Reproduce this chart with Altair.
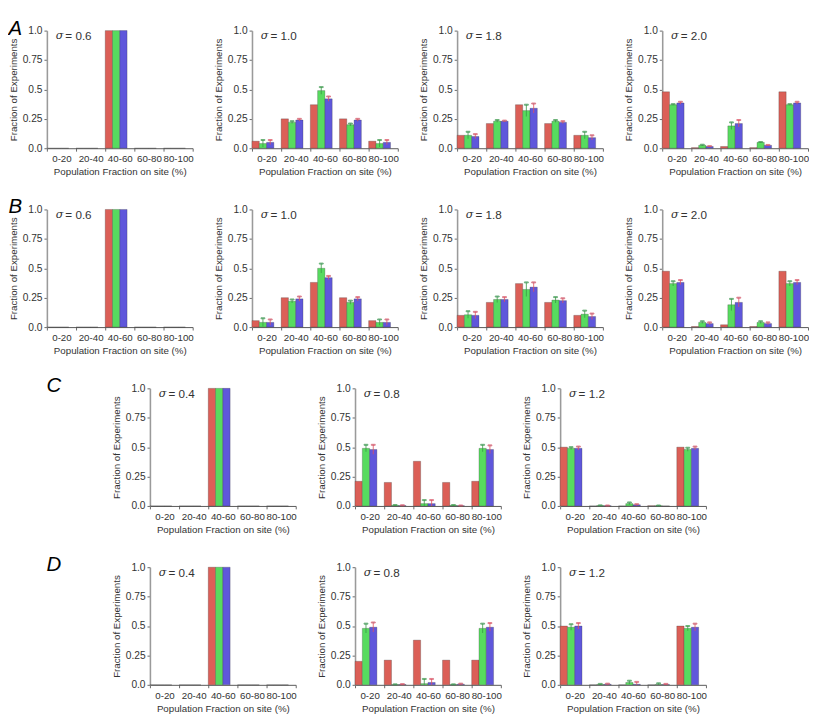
import altair as alt
import pandas as pd

cats = ["0-20", "20-40", "40-60", "60-80", "80-100"]
series = ["s1", "s2", "s3"]
bar_colors = ["#db5f57", "#57db5f", "#5f57db"]
err_colors = ["#b03030", "#3a9a46", "#e0505f"]

# ---- Row A ----
A1_sigma = "0.6"
A1_red = [0, 0, 1.0, 0, 0]
A1_green = [0, 0, 1.0, 0, 0]
A1_blue = [0, 0, 1.0, 0, 0]
A1_green_err = [0, 0, 0, 0, 0]
A1_blue_err = [0, 0, 0, 0, 0]

A2_sigma = "1.0"
A2_red = [0.06, 0.25, 0.37, 0.25, 0.06]
A2_green = [0.04, 0.22, 0.49, 0.20, 0.04]
A2_blue = [0.05, 0.24, 0.42, 0.24, 0.05]
A2_green_err = [0.03, 0.01, 0.03, 0.01, 0.03]
A2_blue_err = [0.02, 0.01, 0.02, 0.01, 0.02]

A3_sigma = "1.8"
A3_red = [0.11, 0.21, 0.37, 0.21, 0.11]
A3_green = [0.11, 0.23, 0.32, 0.23, 0.11]
A3_blue = [0.10, 0.23, 0.34, 0.22, 0.09]
A3_green_err = [0.03, 0.01, 0.05, 0.01, 0.03]
A3_blue_err = [0.02, 0.005, 0.04, 0.01, 0.02]

A4_sigma = "2.0"
A4_red = [0.48, 0.005, 0.015, 0.005, 0.48]
A4_green = [0.37, 0.025, 0.19, 0.05, 0.37]
A4_blue = [0.385, 0.015, 0.21, 0.025, 0.385]
A4_green_err = [0.005, 0.005, 0.03, 0.003, 0.005]
A4_blue_err = [0.01, 0.003, 0.03, 0.003, 0.01]

# ---- Row B ----
B1_sigma = "0.6"
B1_red = [0, 0, 1.0, 0, 0]
B1_green = [0, 0, 1.0, 0, 0]
B1_blue = [0, 0, 1.0, 0, 0]
B1_green_err = [0, 0, 0, 0, 0]
B1_blue_err = [0, 0, 0, 0, 0]

B2_sigma = "1.0"
B2_red = [0.055, 0.25, 0.38, 0.25, 0.055]
B2_green = [0.04, 0.22, 0.50, 0.21, 0.04]
B2_blue = [0.04, 0.24, 0.42, 0.24, 0.04]
B2_green_err = [0.035, 0.015, 0.04, 0.015, 0.025]
B2_blue_err = [0.025, 0.02, 0.015, 0.015, 0.025]

B3_sigma = "1.8"
B3_red = [0.10, 0.21, 0.37, 0.21, 0.10]
B3_green = [0.105, 0.235, 0.32, 0.23, 0.11]
B3_blue = [0.10, 0.235, 0.34, 0.225, 0.09]
B3_green_err = [0.03, 0.025, 0.06, 0.025, 0.03]
B3_blue_err = [0.03, 0.02, 0.04, 0.02, 0.025]

B4_sigma = "2.0"
B4_red = [0.475, 0.005, 0.02, 0.005, 0.475]
B4_green = [0.37, 0.04, 0.19, 0.04, 0.37]
B4_blue = [0.38, 0.03, 0.21, 0.03, 0.38]
B4_green_err = [0.02, 0.01, 0.05, 0.01, 0.02]
B4_blue_err = [0.02, 0.01, 0.04, 0.01, 0.02]

# ---- Row C ----
C1_sigma = "0.4"
C1_red = [0, 0, 1.0, 0, 0]
C1_green = [0, 0, 1.0, 0, 0]
C1_blue = [0, 0, 1.0, 0, 0]
C1_green_err = [0, 0, 0, 0, 0]
C1_blue_err = [0, 0, 0, 0, 0]

C2_sigma = "0.8"
C2_red = [0.21, 0.20, 0.38, 0.20, 0.21]
C2_green = [0.49, 0.005, 0.02, 0.005, 0.49]
C2_blue = [0.48, 0.003, 0.02, 0.002, 0.48]
C2_green_err = [0.03, 0.003, 0.03, 0.003, 0.03]
C2_blue_err = [0.04, 0.003, 0.03, 0.002, 0.035]

C3_sigma = "1.2"
C3_red = [0.50, 0, 0, 0.002, 0.50]
C3_green = [0.49, 0.003, 0.02, 0.002, 0.48]
C3_blue = [0.49, 0.002, 0.01, 0, 0.49]
C3_green_err = [0.01, 0.002, 0.01, 0.002, 0.015]
C3_blue_err = [0.015, 0.002, 0.005, 0, 0.015]

# ---- Row D ----
D1_sigma = "0.4"
D1_red = [0, 0, 1.0, 0, 0]
D1_green = [0, 0, 1.0, 0, 0]
D1_blue = [0, 0, 1.0, 0, 0]
D1_green_err = [0, 0, 0, 0, 0]
D1_blue_err = [0, 0, 0, 0, 0]

D2_sigma = "0.8"
D2_red = [0.20, 0.21, 0.38, 0.21, 0.21]
D2_green = [0.48, 0.002, 0.01, 0.002, 0.48]
D2_blue = [0.49, 0.003, 0.02, 0.005, 0.49]
D2_green_err = [0.04, 0.002, 0.04, 0.002, 0.04]
D2_blue_err = [0.04, 0.003, 0.03, 0.005, 0.035]

D3_sigma = "1.2"
D3_red = [0.50, 0, 0, 0, 0.50]
D3_green = [0.49, 0.003, 0.02, 0.003, 0.48]
D3_blue = [0.50, 0.005, 0.005, 0.003, 0.49]
D3_green_err = [0.025, 0.005, 0.015, 0.01, 0.02]
D3_blue_err = [0.025, 0.005, 0.02, 0.005, 0.03]

PW, PH = 150, 121
FONT = "Liberation Sans"
offset_domain = series + ["gap"]


def panel(sigma, red, green, blue, gerr, berr):
    rows = []
    for i, c in enumerate(cats):
        for s, v, e in zip(series, [red[i], green[i], blue[i]], [0, gerr[i], berr[i]]):
            rows.append({"cat": c, "series": s, "value": v,
                         "lo": max(v - e, 0), "hi": v + e, "err": e})
    df = pd.DataFrame(rows)
    x = alt.X("cat:N", sort=cats,
              scale=alt.Scale(domain=cats, paddingInner=0, paddingOuter=0),
              axis=alt.Axis(title="Population Fraction on site (%)", labelAngle=0,
                            tickBand="extent", labelPadding=3, titlePadding=3,
                            labelOverlap=False))
    xo = alt.XOffset("series:N", scale=alt.Scale(domain=offset_domain,
                                                 paddingInner=0, paddingOuter=0))
    ysc = alt.Scale(domain=[0, 1], nice=False)
    yax = alt.Axis(title="Fraction of Experiments", values=[0, 0.25, 0.5, 0.75, 1.0],
                   labelExpr="datum.value==0?'0.0':datum.value==1?'1.0':datum.value==0.5?'0.5':datum.value==0.25?'0.25':'0.75'",
                   labelOverlap=False, labelFontSize=10.5, domainColor="#9a9a9a",
                   domainWidth=1.6, titlePadding=4)
    base = alt.Chart(df)
    bars = base.mark_bar(stroke="#333333", strokeWidth=0.5, strokeOpacity=0.55).encode(
        x=x, xOffset=xo,
        y=alt.Y("value:Q", scale=ysc, axis=yax),
        color=alt.Color("series:N", scale=alt.Scale(domain=series, range=bar_colors), legend=None),
    )
    eb = base.transform_filter("datum.err > 0")
    rules = eb.mark_rule(strokeWidth=1.1, opacity=0.75).encode(
        x=x, xOffset=xo, y=alt.Y("lo:Q", scale=ysc, axis=yax), y2="hi:Q",
        stroke=alt.Stroke("series:N", scale=alt.Scale(domain=series, range=err_colors), legend=None),
    )
    caps = eb.mark_tick(thickness=1, size=4, opacity=0.75, orient="horizontal").encode(
        x=x, xOffset=xo, y=alt.Y("hi:Q", scale=ysc, axis=yax),
        stroke=alt.Stroke("series:N", scale=alt.Scale(domain=series, range=err_colors), legend=None),
    )
    sig = alt.Chart(pd.DataFrame({"t": ["σ"]})).mark_text(
        font="DejaVu Serif", fontStyle="italic", fontSize=11.5, align="left", baseline="middle", color="#333"
    ).encode(text="t:N", x=alt.value(9), y=alt.value(6))
    val = alt.Chart(pd.DataFrame({"t": ["= " + sigma]})).mark_text(
        font=FONT, fontSize=12, align="left", baseline="middle", color="#333"
    ).encode(text="t:N", x=alt.value(19), y=alt.value(6))
    return alt.layer(bars, rules, caps, sig, val).properties(width=PW, height=PH)


def spacer(w):
    return alt.Chart(pd.DataFrame({"v": [0]})).mark_point(opacity=0, size=1).encode(
        x=alt.value(0), y=alt.value(0)).properties(width=w, height=PH)


def row_title(letter):
    return alt.TitleParams(letter, anchor="start", fontSize=21, fontStyle="italic",
                           font=FONT, fontWeight="normal", offset=-13, color="#000")


HS = 20
SW = 46
rowA = alt.hconcat(
    panel(A1_sigma, A1_red, A1_green, A1_blue, A1_green_err, A1_blue_err),
    panel(A2_sigma, A2_red, A2_green, A2_blue, A2_green_err, A2_blue_err),
    panel(A3_sigma, A3_red, A3_green, A3_blue, A3_green_err, A3_blue_err),
    panel(A4_sigma, A4_red, A4_green, A4_blue, A4_green_err, A4_blue_err),
    spacing=HS, title=row_title("A"))
rowB = alt.hconcat(
    panel(B1_sigma, B1_red, B1_green, B1_blue, B1_green_err, B1_blue_err),
    panel(B2_sigma, B2_red, B2_green, B2_blue, B2_green_err, B2_blue_err),
    panel(B3_sigma, B3_red, B3_green, B3_blue, B3_green_err, B3_blue_err),
    panel(B4_sigma, B4_red, B4_green, B4_blue, B4_green_err, B4_blue_err),
    spacing=HS, title=row_title("B"))
rowC = alt.hconcat(
    spacer(SW),
    panel(C1_sigma, C1_red, C1_green, C1_blue, C1_green_err, C1_blue_err),
    panel(C2_sigma, C2_red, C2_green, C2_blue, C2_green_err, C2_blue_err),
    panel(C3_sigma, C3_red, C3_green, C3_blue, C3_green_err, C3_blue_err),
    spacing=HS, title=row_title("C"))
rowD = alt.hconcat(
    spacer(SW),
    panel(D1_sigma, D1_red, D1_green, D1_blue, D1_green_err, D1_blue_err),
    panel(D2_sigma, D2_red, D2_green, D2_blue, D2_green_err, D2_blue_err),
    panel(D3_sigma, D3_red, D3_green, D3_blue, D3_green_err, D3_blue_err),
    spacing=HS, title=row_title("D"))

chart = alt.vconcat(rowA, rowB, rowC, rowD, spacing=21).properties(
    padding={"left": 0, "top": 0, "right": 0, "bottom": 0}
).configure_view(stroke=None).configure_axis(
    labelFont=FONT, titleFont=FONT, labelFontSize=10, titleFontSize=10,
    labelColor="#333", titleColor="#333", titleFontWeight="normal",
    tickColor="#666", tickSize=3, grid=False, domainColor="#555", domainWidth=1,
).configure_axisY(domainColor="#9a9a9a", domainWidth=1.6)

chart.save("out.html", embed_options={"renderer": "svg", "actions": False})
